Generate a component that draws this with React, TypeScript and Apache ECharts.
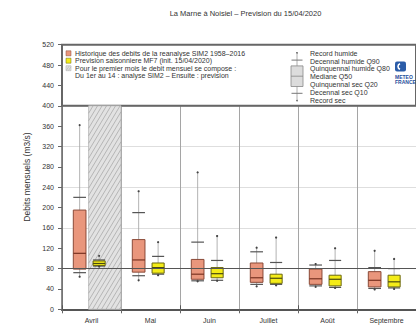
import React, { useEffect, useRef } from 'react';
import * as echarts from 'echarts';

// ---- Data ----
const months = ['Avril', 'Mai', 'Juin', 'Juillet', 'Août', 'Septembre'];

// Historique SIM2 (m3/s)
const histRecSec = [64, 57, 55, 45, 44, 39];
const histQ10 = [72, 66, 56, 49, 46, 41];
const histQ20 = [79, 73, 59, 53, 49, 44];
const histQ50 = [110, 97, 69, 62, 60, 57];
const histQ80 = [195, 137, 98, 91, 79, 74];
const histQ90 = [220, 190, 132, 113, 87, 82];
const histRecHum = [362, 232, 269, 121, 89, 115];

// Prevision MF7 (m3/s)
const prevRecSec = [84, 67, 56, 47, 42, 40];
const prevQ10 = [85, 69, 57, 49, 43, 42];
const prevQ20 = [86, 71, 62, 51, 46, 44];
const prevQ50 = [90, 82, 70, 61, 59, 54];
const prevQ80 = [95, 91, 82, 69, 67, 67];
const prevQ90 = [97, 104, 96, 92, 96, 80];
const prevRecHum = [105, 132, 144, 141, 120, 99];

const hatchMonthIndex = 0;
const hatchRange = [0, 400];
const legendRange = [400, 520];
const refLine = 80;

const titleText = 'La Marne à Noisiel – Prevision du 15/04/2020';
const yName = 'Debits mensuels (m3/s)';
const legendLeft = [
  'Historique des debits de la reanalyse SIM2 1958–2016',
  'Prevision saisonniere MF7 (init. 15/04/2020)',
  'Pour le premier mois le debit mensuel se compose :',
  'Du 1er au 14 : analyse SIM2 – Ensuite : prevision',
];
const legendRight = [
  'Record humide',
  'Decennal humide Q90',
  'Quinquennal humide Q80',
  'Mediane Q50',
  'Quinquennal sec Q20',
  'Decennal sec Q10',
  'Record sec',
];

const FONT = '"Liberation Sans", Arial, Helvetica, sans-serif';
const HIST_FILL = '#E9967C';
const HIST_STROKE = '#8a4a38';
const HIST_MED = '#7a3322';
const PREV_FILL = '#F4EC18';
const PREV_STROKE = '#6b6810';
const PREV_MED = '#4a4a10';

function boxRender(offsetFrac: number, widthFrac: number, fill: string, stroke: string, med: string) {
  return (params: any, api: any) => {
    const idx = api.value(0);
    const band = api.size([1, 0])[0];
    const cx = api.coord([idx, 0])[0] + offsetFrac * band;
    const w = widthFrac * band;
    const y = (v: number) => api.coord([idx, v])[1];
    const rs = api.value(1), q10 = api.value(2), q20 = api.value(3), q50 = api.value(4),
      q80 = api.value(5), q90 = api.value(6), rh = api.value(7);
    const l = cx - w / 2, r = cx + w / 2;
    return {
      type: 'group',
      children: [
        { type: 'line', shape: { x1: cx, y1: y(rs), x2: cx, y2: y(rh) }, style: { stroke: '#a0a0a0', lineWidth: 0.8 } },
        { type: 'line', shape: { x1: l, y1: y(q90), x2: r, y2: y(q90) }, style: { stroke: '#555', lineWidth: 1.2 } },
        { type: 'line', shape: { x1: l, y1: y(q10), x2: r, y2: y(q10) }, style: { stroke: '#555', lineWidth: 1.2 } },
        { type: 'rect', shape: { x: l, y: y(q80), width: w, height: y(q20) - y(q80) }, style: { fill, stroke, lineWidth: 1 } },
        { type: 'line', shape: { x1: l, y1: y(q50), x2: r, y2: y(q50) }, style: { stroke: med, lineWidth: 1.2 } },
        { type: 'circle', shape: { cx, cy: y(rh), r: 1.1 }, style: { fill: '#444' } },
        { type: 'circle', shape: { cx, cy: y(rs), r: 1.1 }, style: { fill: '#444' } },
      ],
    };
  };
}

function hatchRender(params: any, api: any) {
  const idx = api.value(0);
  const band = api.size([1, 0])[0];
  const base = api.coord([idx, api.value(1)]);
  const yt = api.coord([idx, api.value(2)])[1];
  const x1 = base[0] - 0.049 * band;
  const x2 = base[0] + band / 2;
  const yb = base[1];
  const H = yb - yt;
  const s = 0.6;
  const step = 4.5;
  const children: any[] = [
    { type: 'rect', shape: { x: x1, y: yt, width: x2 - x1, height: H }, style: { fill: '#e2e2e2', stroke: '#b5b5b5', lineWidth: 0.8 } },
  ];
  for (let c0 = x1 - s * H; c0 < x2; c0 += step) {
    const tmin = Math.max(0, (x1 - c0) / (s * H));
    const tmax = Math.min(1, (x2 - c0) / (s * H));
    if (tmax <= tmin) continue;
    children.push({
      type: 'line',
      shape: { x1: c0 + tmin * s * H, y1: yb - tmin * H, x2: c0 + tmax * s * H, y2: yb - tmax * H },
      style: { stroke: '#a2a2a2', lineWidth: 0.7 },
    });
  }
  return { type: 'group', children };
}

export default function App() {
  const ref = useRef<HTMLDivElement>(null);
  useEffect(() => {
    if (!ref.current) return;
    const chart = echarts.init(ref.current, undefined, { renderer: 'svg' });

    const histData = months.map((_, i) => [i, histRecSec[i], histQ10[i], histQ20[i], histQ50[i], histQ80[i], histQ90[i], histRecHum[i]]);
    const prevData = months.map((_, i) => [i, prevRecSec[i], prevQ10[i], prevQ20[i], prevQ50[i], prevQ80[i], prevQ90[i], prevRecHum[i]]);

    const txt = (x: number, y: number, text: string, extra: any = {}) => ({
      type: 'text', z: 20, x, y,
      style: { text, fontSize: 7, fontFamily: FONT, fill: '#333', verticalAlign: 'middle', ...extra },
    });

    const rowL = [53.3, 60.7, 68.2, 75.7];
    const rowR = legendRight.map((_, i) => 53.3 + i * 7.8);

    const graphics: any[] = [
      txt(245.5, 13.5, titleText, { textAlign: 'center', fontSize: 7.5 }),
      { type: 'rect', z: 20, shape: { x: 66, y: rowL[0] - 2.5, width: 5, height: 5 }, style: { fill: HIST_FILL, stroke: HIST_STROKE, lineWidth: 0.5 } },
      { type: 'rect', z: 20, shape: { x: 66, y: rowL[1] - 2.5, width: 5, height: 5 }, style: { fill: PREV_FILL, stroke: PREV_STROKE, lineWidth: 0.5 } },
      { type: 'rect', z: 20, shape: { x: 66, y: rowL[2] - 2.5, width: 5, height: 5 }, style: { fill: '#e3e3e3', stroke: '#aaa', lineWidth: 0.5 } },
      { type: 'line', z: 21, shape: { x1: 66.5, y1: rowL[2] + 2, x2: 69, y2: rowL[2] - 2 }, style: { stroke: '#aaa', lineWidth: 0.5 } },
      { type: 'line', z: 21, shape: { x1: 68.5, y1: rowL[2] + 2.3, x2: 71, y2: rowL[2] - 1.5 }, style: { stroke: '#aaa', lineWidth: 0.5 } },
      ...[rowL[3] + 2, rowL[3] + 9.5, rowL[3] + 17, rowL[3] + 24.5].map((yy) => ({
        type: 'circle', z: 20, shape: { cx: 68.5, cy: yy, r: 0.5 }, style: { fill: '#bbb' },
      })),
      ...legendLeft.map((t, i) => txt(75, rowL[i], t)),
      // box icon
      { type: 'line', z: 20, shape: { x1: 297, y1: rowR[0], x2: 297, y2: rowR[6] }, style: { stroke: '#999', lineWidth: 0.8 } },
      { type: 'line', z: 20, shape: { x1: 291.5, y1: rowR[1] - 1, x2: 302.5, y2: rowR[1] - 1 }, style: { stroke: '#777', lineWidth: 1 } },
      { type: 'line', z: 20, shape: { x1: 291.5, y1: rowR[5] + 1, x2: 302.5, y2: rowR[5] + 1 }, style: { stroke: '#777', lineWidth: 1 } },
      { type: 'rect', z: 21, shape: { x: 291, y: rowR[2] - 3, width: 12, height: rowR[4] - rowR[2] + 5 }, style: { fill: '#dcdcdc', stroke: '#888', lineWidth: 0.8 } },
      { type: 'line', z: 22, shape: { x1: 291, y1: rowR[3] - 0.5, x2: 303, y2: rowR[3] - 0.5 }, style: { stroke: '#888', lineWidth: 0.8 } },
      { type: 'circle', z: 22, shape: { cx: 297, cy: rowR[0] - 0.5, r: 0.8 }, style: { fill: '#555' } },
      { type: 'circle', z: 22, shape: { cx: 297, cy: rowR[6] + 0.5, r: 0.8 }, style: { fill: '#555' } },
      ...legendRight.map((t, i) => txt(310, rowR[i], t)),
      // Meteo France logo
      { type: 'rect', z: 20, shape: { x: 395, y: 61.5, width: 11, height: 10, r: 2 }, style: { fill: '#2b5ca8' } },
      { type: 'arc', z: 21, shape: { cx: 401, cy: 66.5, r: 3, startAngle: Math.PI * 0.6, endAngle: Math.PI * 1.4 }, style: { stroke: '#fff', lineWidth: 1.6, fill: 'none' } },
      txt(395, 76.5, 'METEO', { fontSize: 5, fontWeight: 'bold', fill: '#1f4e9c' }),
      txt(395, 81.5, 'FRANCE', { fontSize: 5, fontWeight: 'bold', fill: '#1f4e9c' }),
    ];

    const option: any = {
      animation: false,
      grid: { left: 62, top: 44.7, width: 367.2, height: 264.6 },
      xAxis: [
        {
          type: 'category', data: months, position: 'bottom', boundaryGap: true,
          axisLine: { lineStyle: { color: '#777', width: 2 } },
          axisTick: { show: true, length: 4, lineStyle: { color: '#666', width: 1 } },
          axisLabel: { fontSize: 7, color: '#333', margin: 8, fontFamily: FONT },
          splitLine: { show: true, lineStyle: { color: '#a5a5a5', width: 1 } },
        },
        {
          type: 'category', data: months, position: 'top', boundaryGap: true,
          axisLine: { lineStyle: { color: '#555', width: 2 } },
          axisTick: { show: true, length: 4, lineStyle: { color: '#555', width: 1 } },
          axisLabel: { show: false },
          splitLine: { show: false },
        },
      ],
      yAxis: [
        {
          type: 'value', min: 0, max: 520, interval: 40, position: 'left',
          name: yName, nameLocation: 'middle', nameGap: 30,
          nameTextStyle: { fontSize: 8.5, color: '#333', fontFamily: FONT },
          axisLine: { show: true, lineStyle: { color: '#666', width: 1.5 } },
          axisTick: { show: true, length: 4, lineStyle: { color: '#666' } },
          axisLabel: { fontSize: 7, color: '#333', margin: 8, fontFamily: FONT },
          splitLine: { show: false },
        },
        {
          type: 'value', min: 0, max: 520, interval: 80, position: 'right',
          axisLine: { show: false }, axisTick: { show: false }, axisLabel: { show: false },
          splitLine: { show: true, lineStyle: { color: '#dedede', width: 1 } },
        },
      ],
      graphic: graphics,
      series: [
        {
          type: 'custom', name: 'hatch', z: 1, silent: true,
          renderItem: hatchRender,
          encode: { x: 0, y: [1, 2] },
          data: [[hatchMonthIndex, hatchRange[0], hatchRange[1]]],
          markLine: {
            silent: true, symbol: 'none', label: { show: false },
            lineStyle: { color: '#555', width: 1, type: 'solid' },
            data: [{ yAxis: refLine }],
          },
          markArea: {
            silent: true,
            itemStyle: { color: '#fff', borderColor: '#666', borderWidth: 2 },
            data: [[{ yAxis: legendRange[0] }, { yAxis: legendRange[1] }]],
          },
        },
        {
          type: 'custom', name: 'Historique', z: 3, silent: true,
          renderItem: boxRender(-0.201, 0.215, HIST_FILL, HIST_STROKE, HIST_MED),
          encode: { x: 0, y: [1, 2, 3, 4, 5, 6, 7] },
          data: histData,
        },
        {
          type: 'custom', name: 'Prevision', z: 3, silent: true,
          renderItem: boxRender(0.129, 0.205, PREV_FILL, PREV_STROKE, PREV_MED),
          encode: { x: 0, y: [1, 2, 3, 4, 5, 6, 7] },
          data: prevData,
        },
      ],
    };
    chart.setOption(option);
    return () => chart.dispose();
  }, []);
  return <div ref={ref} style={{ position: 'fixed', left: 0, top: 0, width: 416, height: 325, background: '#fff' }} />;
}
